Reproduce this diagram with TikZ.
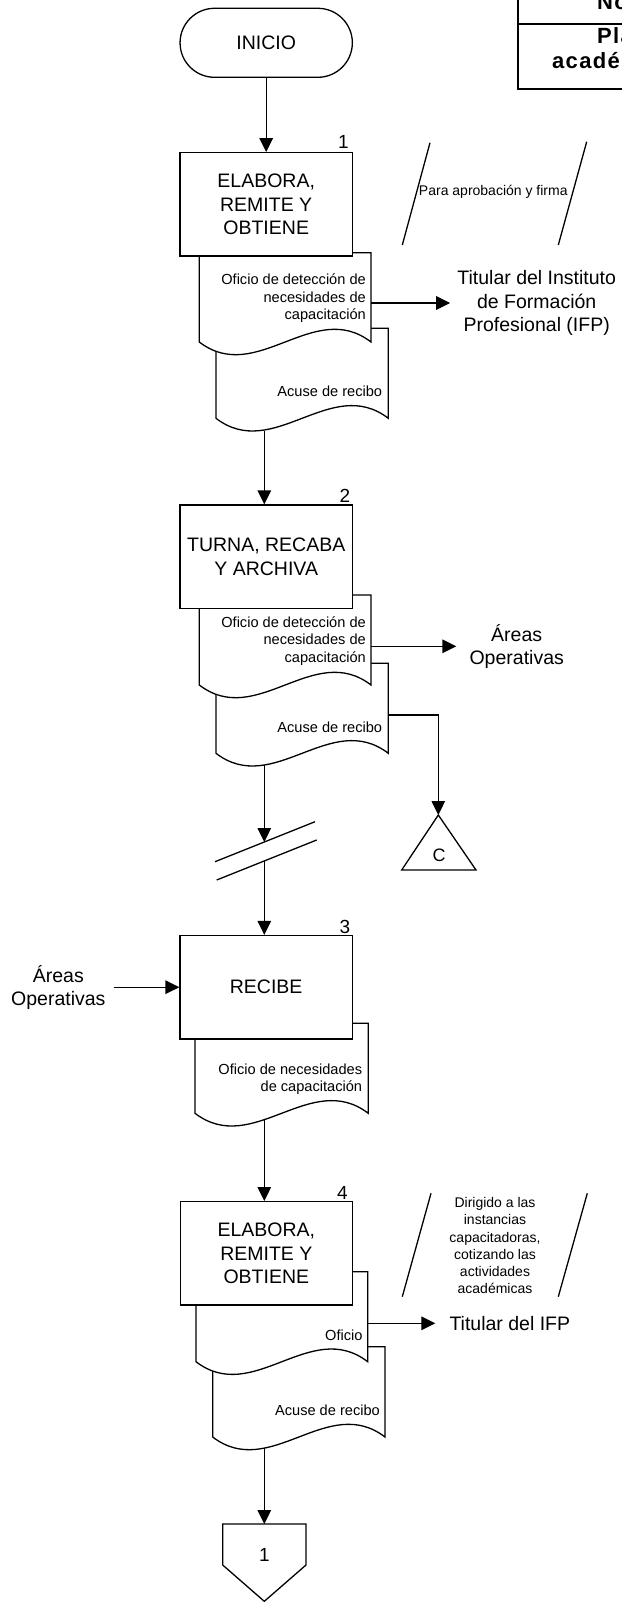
\documentclass[tikz,border=0pt]{standalone}
\usepackage{fontspec}
\setmainfont{Liberation Sans}
\usetikzlibrary{arrows.meta,calc}
\newcommand\fbig{\fontsize{19.5}{23.3}\selectfont}
\newcommand\fsmall{\fontsize{14.6}{17.6}\selectfont}
\newcommand\fnote{\fontsize{14}{17.3}\selectfont}
\newcommand\ftab{\fontsize{22}{24}\selectfont\bfseries\addfontfeatures{LetterSpace=6}}
\tikzset{
  ln/.style={line width=1.3pt},
  arr/.style={line width=1.3pt,-{Triangle[length=14pt,width=13.5pt]}},
  procbox/.style={draw,line width=1.3pt,fill=white,minimum width=172.3pt,minimum height=103.3pt,inner sep=0pt,align=center,font=\fbig},
  termbox/.style={draw,line width=1.3pt,fill=white,minimum width=172.3pt,minimum height=69pt,inner sep=0pt,rounded corners=34.5pt,font=\fbig},
  numlbl/.style={inner sep=0pt,font=\fontsize{19}{22}\selectfont},
  doctext/.style={inner sep=0pt,anchor=east,align=right,font=\fsmall},
  bigtext/.style={inner sep=0pt,align=center,font=\fbig},
  notetext/.style={inner sep=0pt,align=center,font=\fnote},
  tabtext/.style={inner sep=0pt,anchor=base west,font=\ftab},
  docframe/.style={draw=none,inner sep=0pt,outer sep=0pt,anchor=north west},
}
% #1 name, #2 left, #3 right, #4 top, #5 bottom (ends of the wave)
\newcommand\docshape[5]{%
  \node[docframe,minimum width={#3-#2},minimum height={#5-#4}] (#1) at (#2,#4) {};
  \draw[ln,fill=white] (#1.north west) -- (#1.north east) -- (#1.south east)
    .. controls ($(#1.south west)!0.6667!(#1.south east)+(0,-44)$)
    and ($(#1.south west)!0.3333!(#1.south east)+(0,44)$) .. (#1.south west) -- cycle;}
\begin{document}
\begin{tikzpicture}[x=1pt,y=-1pt]
\useasboundingbox (0,0) rectangle (621,1602);
\fill[white] (0,0) rectangle (621,1602);

% header table (cut by the page edge, as in the original)
\draw[line width=2pt] (518.3,-3) -- (518.3,89.3) -- (630,89.3);
\draw[line width=2pt] (518.3,24) -- (630,24);
\node[tabtext] (tab1) at (597,10) {No};
\node[tabtext] (tab2) at (597,43.3) {Pla};
\node[tabtext] (tab3) at (552,68.3) {acadé};

% INICIO
\node[termbox] (ini) at (266.2,42.8) {INICIO};

% ---- step 1
\docshape{d1b}{216}{388.3}{328.3}{418.3}
\node[doctext] (d1btx) at (382.3,391.7) {Acuse de recibo};
\docshape{d1a}{199.3}{371}{252.7}{342}
\node[doctext] (d1atx) at (366,298.3) {Oficio de detección de\\necesidades de\\capacitación};
\node[procbox] (b1) at (266.2,204.4) {ELABORA,\\REMITE Y\\OBTIENE};
\node[numlbl] (n1) at (343.3,141.7) {1};
\draw[ln] (430,142.7) -- (402.3,245);
\draw[ln] (586.7,141.7) -- (558.3,245);
\node[notetext] (note1) at (493.3,191.7) {Para aprobación y firma};
\node[bigtext] (tit1) at (536.7,303) {Titular del Instituto\\de Formación\\Profesional (IFP)};

% ---- step 2
\docshape{d2b}{216}{388.3}{663.3}{753.3}
\node[doctext] (d2btx) at (382.3,727.3) {Acuse de recibo};
\docshape{d2a}{199.3}{371}{595}{685}
\node[doctext] (d2atx) at (366,641.1) {Oficio de detección de\\necesidades de\\capacitación};
\node[procbox] (b2) at (266.2,556.7) {TURNA, RECABA\\Y ARCHIVA};
\node[numlbl] (n2) at (345,496) {2};
\node[bigtext] (ar1) at (516.7,646.3) {Áreas\\Operativas};
\coordinate (capex) at (438.3,815);
\draw[ln] (capex) -- (476,870) -- (401.7,870) -- cycle;
\node[inner sep=0pt,font=\fontsize{18}{20}\selectfont] (cC) at (439,855) {C};
\draw[ln] (215,861.7) -- (315,821.7);
\draw[ln] (216.7,880) -- (316.7,840);
\coordinate (brk1) at (264.3,842);
\coordinate (brk2) at (264.3,861);
\coordinate (c2) at (388.3,715);
\coordinate (m2) at (264.3,765);

% ---- step 3
\docshape{d3}{195}{368.3}{1023.3}{1113.3}
\node[doctext] (d3tx) at (362.3,1079.2) {Oficio de necesidades\\de capacitación};
\node[procbox] (b3) at (266.2,987.2) {RECIBE};
\node[numlbl] (n3) at (345,926.7) {3};
\node[bigtext] (ar2) at (58.3,987.5) {Áreas\\Operativas};
\coordinate (m3) at (264.3,1120);

% ---- step 4
\docshape{d4b}{212.7}{385}{1346.7}{1437}
\node[doctext] (d4btx) at (380,1410.7) {Acuse de recibo};
\docshape{d4a}{196}{367.7}{1271.7}{1361.7}
\node[doctext] (d4atx) at (362.7,1335.7) {Oficio};
\node[procbox] (b4) at (266.3,1253.3) {ELABORA,\\REMITE Y\\OBTIENE};
\node[numlbl] (n4) at (342.3,1193.3) {4};
\draw[ln] (431,1193.3) -- (402.3,1296.7);
\draw[ln] (587.3,1193.3) -- (558.3,1296.7);
\node[notetext] (note2) at (495,1245.7) {Dirigido a las\\instancias\\capacitadoras,\\cotizando las\\actividades\\académicas};
\node[bigtext,anchor=west] (tit2) at (449.3,1323.3) {Titular del IFP};
\coordinate (m4) at (264.3,1448);
\coordinate (p1) at (264.3,1524);
\draw[ln] (222.7,1524) -- (p1) -- (306,1524) -- (306,1565) -- (264.3,1601.3) -- (222.7,1565) -- cycle;
\node[numlbl] (pn1) at (264.5,1555) {1};

% ---- connectors
\draw[arr] (ini.south) -- (b1.north);
\draw[arr] (d1a.east |- tit1) -- ([xshift=-7pt]tit1.west);
\coordinate (m1) at (264.3,430.5);
\draw[arr] (m1) -- (m1 |- b2.north);
\draw[arr] (d2a.east |- ar1) -- ([xshift=-13pt]ar1.west);
\draw[arr] (c2) -| (capex);
\draw[arr] (m2) -- (brk1);
\draw[arr] (brk2) -- (brk2 |- b3.north);
\draw[arr] ([xshift=8pt]ar2.east |- b3.west) -- (b3.west);
\draw[arr] (m3) -- (m3 |- b4.north);
\draw[arr] (d4a.east |- tit2) -- ([xshift=-14pt]tit2.west);
\draw[arr] (m4) -- (p1);
\end{tikzpicture}
\end{document}
